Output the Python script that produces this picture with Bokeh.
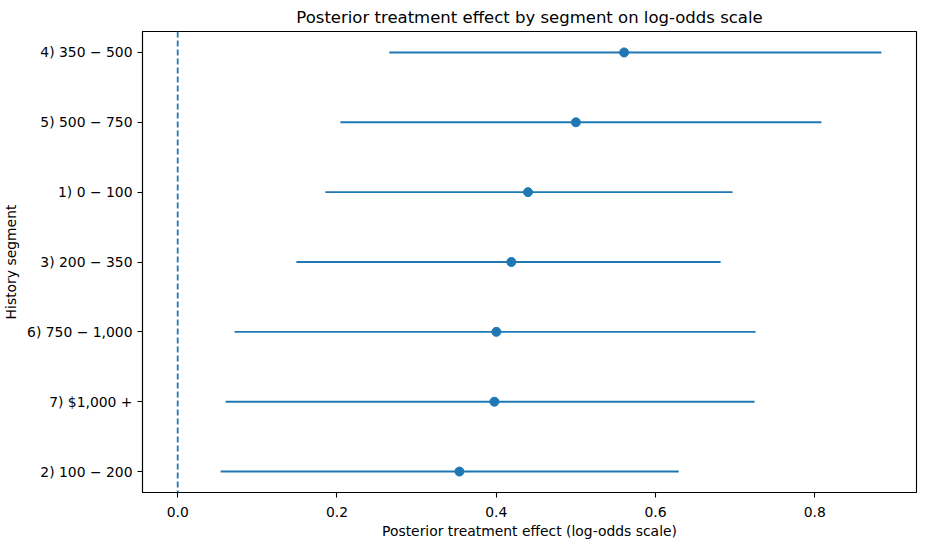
from bokeh.plotting import figure
from bokeh.models import ColumnDataSource, Span, FixedTicker, Range1d, NumeralTickFormatter
from bokeh.embed import file_html
from bokeh.resources import INLINE

# Segments, listed top to bottom as in the chart
segments = ["4) 350 − 500", "5) 500 − 750", "1) 0 − 100", "3) 200 − 350",
            "6) 750 − 1,000", "7) $1,000 +", "2) 100 − 200"]
means = [0.5606, 0.5001, 0.4399, 0.4190, 0.4002, 0.3977, 0.3538]
lower = [0.2657, 0.2043, 0.1855, 0.1491, 0.0714, 0.0602, 0.0539]
upper = [0.8836, 0.8084, 0.6968, 0.6818, 0.7257, 0.7244, 0.6292]
x_ticks = [0.0, 0.2, 0.4, 0.6, 0.8]

n = len(segments)
ypos = [n - 1 - i for i in range(n)]
src = ColumnDataSource(dict(seg=segments, y=ypos, mean=means, lo=lower, hi=upper))

BLUE = "#1f77b4"
FONT = "DejaVu Sans"

p = figure(frame_width=774, frame_height=461, output_backend="svg", toolbar_location=None,
           x_range=Range1d(-0.0442, 0.9278), y_range=Range1d(-0.3, n - 1 + 0.3),
           min_border_left=135, min_border_right=2, min_border_top=26, min_border_bottom=44,
           title="Posterior treatment effect by segment on log-odds scale")

p.segment(x0="lo", x1="hi", y0="y", y1="y", source=src, line_color=BLUE, line_width=1.9)
p.scatter(x="mean", y="y", source=src, size=9, fill_color=BLUE, line_color=BLUE)
p.add_layout(Span(location=0, dimension="height", line_color=BLUE, line_width=1.8,
                  line_dash="6 3"))

p.title.align = "center"
p.title.text_font = FONT
p.title.text_font_size = "16.5px"
p.title.text_font_style = "normal"
p.title.text_color = "black"

p.xgrid.visible = False
p.ygrid.visible = False
p.outline_line_color = "black"
p.outline_line_width = 1.1
p.outline_line_alpha = 1

p.xaxis.ticker = FixedTicker(ticks=x_ticks)
p.xaxis.formatter = NumeralTickFormatter(format="0.0")
p.yaxis.ticker = FixedTicker(ticks=ypos)
p.yaxis.major_label_overrides = {yy: s for yy, s in zip(ypos, segments)}

p.xaxis.axis_label = "Posterior treatment effect (log-odds scale)"
p.yaxis.axis_label = "History segment"

for ax in (p.xaxis[0], p.yaxis[0]):
    ax.axis_line_color = "black"
    ax.axis_line_width = 1.1
    ax.major_tick_line_color = "black"
    ax.major_tick_line_width = 1.1
    ax.major_tick_out = 5
    ax.major_tick_in = 0
    ax.minor_tick_line_color = None
    ax.major_label_text_font = FONT
    ax.major_label_text_font_size = "13.9px"
    ax.major_label_text_color = "black"
    ax.axis_label_text_font = FONT
    ax.axis_label_text_font_size = "13.9px"
    ax.axis_label_text_font_style = "normal"
    ax.axis_label_text_color = "black"
p.xaxis[0].major_label_standoff = 9
p.xaxis[0].axis_label_standoff = 3
p.yaxis[0].major_label_standoff = 5
p.yaxis[0].axis_label_standoff = 5

open("out.html", "w").write(file_html(p, INLINE))
